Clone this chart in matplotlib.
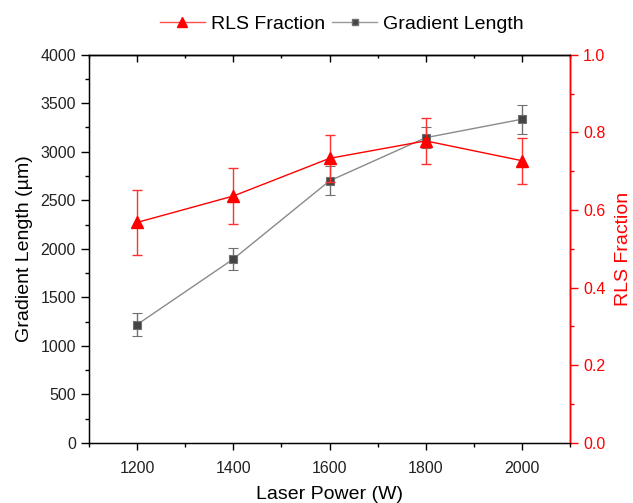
import numpy as np
import matplotlib
matplotlib.use("Agg")
import matplotlib.pyplot as plt
from matplotlib.ticker import MultipleLocator
from matplotlib.lines import Line2D

plt.rcParams['font.family'] = ['Liberation Sans', 'DejaVu Sans']

# data
laser_power = [1200, 1400, 1600, 1800, 2000]
gradient_length = [1220, 1895, 2700, 3145, 3335]
gradient_err = [122, 110, 150, 105, 147]
rls_fraction = [0.568, 0.636, 0.733, 0.778, 0.727]
rls_err = [0.083, 0.072, 0.060, 0.060, 0.059]

x_ticks = [1200, 1400, 1600, 1800, 2000]

fig = plt.figure(figsize=(6.33, 5.03), dpi=100)
ax1 = fig.add_axes([0.1406, 0.1193, 0.7599, 0.772])

# gradient length on the left axis
ax1.errorbar(laser_power, gradient_length, yerr=gradient_err, color='#8a8a8a',
             lw=1.0, marker='s', ms=6, mfc='#444444', mec='#707070', mew=0.8,
             ecolor='#707070', elinewidth=1.0, capsize=3.5, capthick=1.0)
ax1.set_xlim(1100, 2100)
ax1.set_ylim(0, 4000)
ax1.set_xticks(x_ticks)
ax1.xaxis.set_minor_locator(MultipleLocator(100))
ax1.yaxis.set_major_locator(MultipleLocator(500))
ax1.yaxis.set_minor_locator(MultipleLocator(250))
ax1.tick_params(axis='both', which='major', labelsize=11.5, width=1.0,
                labelcolor='#222222')
ax1.tick_params(axis='y', which='major', length=6, direction='out')
ax1.tick_params(axis='y', which='minor', length=3, width=1.0, direction='out')
ax1.tick_params(axis='x', which='major', length=5, direction='out', pad=8)
ax1.tick_params(axis='x', which='minor', length=3, width=1.0, direction='out')
ax1.set_xlabel('Laser Power (W)', fontsize=14, labelpad=7)
ax1.set_ylabel('Gradient Length (\u00b5m)', fontsize=14, labelpad=5)
for s in ax1.spines.values():
    s.set_linewidth(1.0)

# top spine ticks pointing inward
top = ax1.secondary_xaxis('top')
top.set_xticks(x_ticks)
top.xaxis.set_minor_locator(MultipleLocator(100))
top.tick_params(axis='x', which='major', direction='in', length=5, width=1.0, labeltop=False)
top.tick_params(axis='x', which='minor', direction='in', length=2.5, width=1.0)
top.spines['top'].set_linewidth(1.0)

# RLS fraction on the right axis
ax2 = ax1.twinx()
ax2.errorbar(laser_power, rls_fraction, yerr=rls_err, color='red', lw=1.0,
             marker='^', ms=8.5, mfc='red', mec='red',
             ecolor='#ff3030', elinewidth=1.0, capsize=3.5, capthick=1.0)
ax2.set_ylim(0, 1.0)
ax2.yaxis.set_major_locator(MultipleLocator(0.2))
ax2.yaxis.set_minor_locator(MultipleLocator(0.1))
ax2.yaxis.set_major_formatter(plt.FormatStrFormatter('%.1f'))
ax2.tick_params(axis='y', which='major', labelsize=11.5, length=6, width=1.0,
                colors='red', direction='out')
ax2.tick_params(axis='y', which='minor', length=3, width=1.0, colors='red',
                direction='out')
ax2.set_ylabel('RLS Fraction', fontsize=14, color='red', labelpad=7)
ax2.spines['right'].set_color('red')
ax2.spines['right'].set_linewidth(1.0)

# legend shows plain line + marker, no error bars
handles = [
    Line2D([], [], color='#ff5050', lw=1.0, marker='^', ms=7, mfc='red', mec='red'),
    Line2D([], [], color='#999999', lw=1.0, marker='s', ms=5, mfc='#444444', mec='#707070'),
]
fig.legend(handles, ['RLS Fraction', 'Gradient Length'], loc='center',
           bbox_to_anchor=(0.54, 0.952), ncol=2, frameon=False, fontsize=14,
           handlelength=2.3, handletextpad=0.3, columnspacing=0.4, borderpad=0.1)

fig.savefig('out.png', dpi=100)
